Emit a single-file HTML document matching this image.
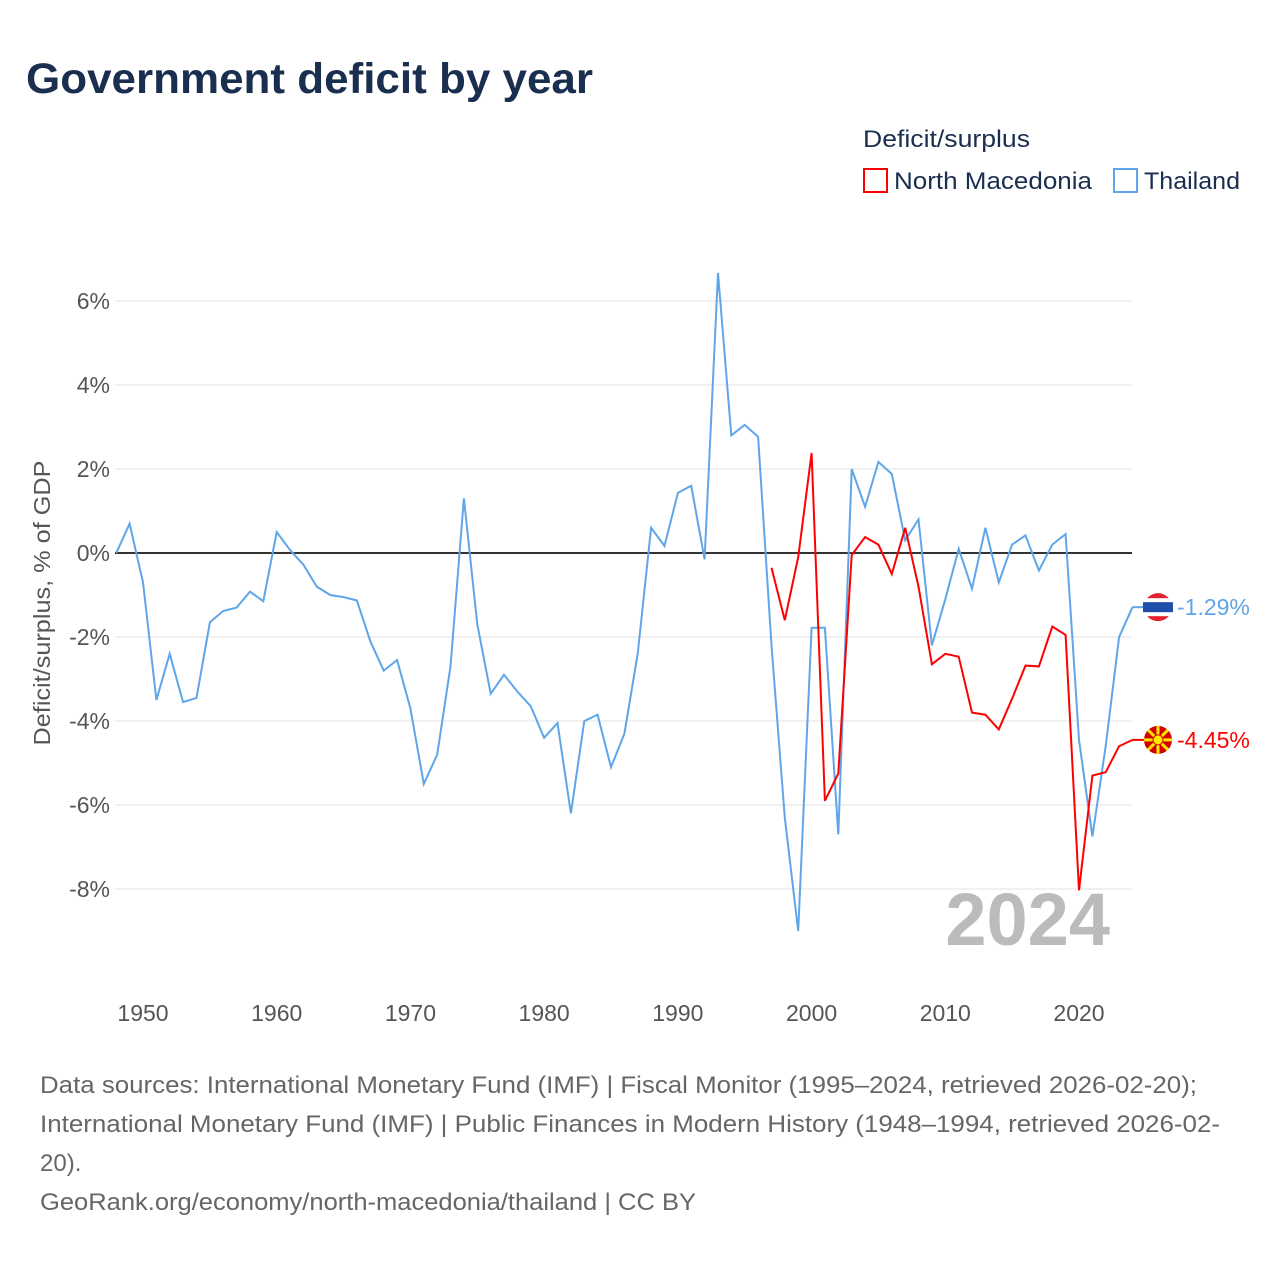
<!DOCTYPE html>
<html><head><meta charset="utf-8"><style>
body{margin:0;background:#fff;font-family:"Liberation Sans",sans-serif;}
</style></head><body>
<svg width="1280" height="1280" xmlns="http://www.w3.org/2000/svg" id="svg">
<rect width="1280" height="1280" fill="#fff"/>
<text x="26" y="93" font-size="43" font-weight="bold" fill="#1a2e4f" textLength="567" lengthAdjust="spacingAndGlyphs">Government deficit by year</text>
<text x="863" y="147" font-size="24" fill="#1a2e4f" textLength="167" lengthAdjust="spacingAndGlyphs">Deficit/surplus</text>
<g><rect x="864" y="169" width="23" height="23" fill="none" stroke="#f00" stroke-width="2"/><text x="894" y="189" font-size="24" fill="#1a2e4f" textLength="198" lengthAdjust="spacingAndGlyphs">North Macedonia</text></g>
<g><rect x="1114" y="169" width="23" height="23" fill="none" stroke="#5ea5ea" stroke-width="2"/><text x="1144" y="189" font-size="24" fill="#1a2e4f" textLength="96" lengthAdjust="spacingAndGlyphs">Thailand</text></g>
<text transform="translate(50,603) rotate(-90)" text-anchor="middle" font-size="23" fill="#555" textLength="285" lengthAdjust="spacingAndGlyphs">Deficit/surplus, % of GDP</text>
<text x="1110" y="945" text-anchor="end" font-size="74" font-weight="bold" fill="#bbb">2024</text>
<g id="grid"></g><g id="lines"></g>
<text x="40" y="1093" font-size="24" fill="#666" textLength="1157" lengthAdjust="spacingAndGlyphs">Data sources: International Monetary Fund (IMF) | Fiscal Monitor (1995–2024, retrieved 2026-02-20);</text>
<text x="40" y="1132" font-size="24" fill="#666" textLength="1180" lengthAdjust="spacingAndGlyphs">International Monetary Fund (IMF) | Public Finances in Modern History (1948–1994, retrieved 2026-02-</text>
<text x="40" y="1171" font-size="24" fill="#666">20).</text>
<text x="40" y="1210" font-size="24" fill="#666" textLength="656" lengthAdjust="spacingAndGlyphs">GeoRank.org/economy/north-macedonia/thailand | CC BY</text>
</svg>
<script>
const yTicks=[6,4,2,0,-2,-4,-6,-8];
const xTicks=[1950,1960,1970,1980,1990,2000,2010,2020];
const thYears=[];for(let y=1948;y<=2024;y++)thYears.push(y);
const thailand=[0,0.7,-0.7,-3.5,-2.4,-3.55,-3.45,-1.65,-1.38,-1.3,-0.92,-1.15,0.5,0.07,-0.28,-0.8,-1.0,-1.05,-1.13,-2.1,-2.8,-2.55,-3.7,-5.5,-4.8,-2.7,1.3,-1.7,-3.35,-2.9,-3.3,-3.65,-4.4,-4.05,-6.2,-4.0,-3.85,-5.1,-4.3,-2.4,0.6,0.17,1.43,1.6,-0.15,6.67,2.8,3.05,2.77,-2.2,-6.3,-9.0,-1.78,-1.78,-6.7,2.0,1.1,2.17,1.88,0.3,0.8,-2.2,-1.1,0.1,-0.85,0.6,-0.7,0.2,0.42,-0.42,0.2,0.45,-4.45,-6.75,-4.6,-2.0,-1.29];
const nmYears=[];for(let y=1997;y<=2024;y++)nmYears.push(y);
const macedonia=[-0.35,-1.6,-0.1,2.38,-5.9,-5.25,-0.05,0.38,0.2,-0.5,0.6,-0.8,-2.65,-2.4,-2.47,-3.8,-3.85,-4.2,-3.47,-2.68,-2.7,-1.75,-1.95,-8.03,-5.3,-5.22,-4.6,-4.45];
const NS="http://www.w3.org/2000/svg";
const X=yr=>143+(yr-1950)*(936/70);
const Y=v=>553-v*42;
function mk(t,a,p){const e=document.createElementNS(NS,t);for(const k in a)e.setAttribute(k,a[k]);p.appendChild(e);return e;}
const grid=document.getElementById('grid'),lines=document.getElementById('lines');
yTicks.forEach(v=>{
 const l=mk('line',{x1:115,x2:1132,y1:Y(v),y2:Y(v),stroke:v===0?'#333':'#e3e3e3','stroke-width':v===0?2:1},grid);
 
 
 const t=mk('text',{x:110,y:Y(v)+8,'text-anchor':'end','font-size':23,fill:'#555'},grid);t.textContent=v+'%';
 
 
});
xTicks.forEach(v=>{
 const t=mk('text',{x:X(v),y:1021,'text-anchor':'middle','font-size':23,fill:'#555'},grid);t.textContent=v;
 
 
});
function series(ys,vs,c,name){
 const p=mk('path',{d:ys.map((y,i)=>(i?'L':'M')+X(y).toFixed(1)+','+Y(vs[i]).toFixed(1)).join(''),fill:'none',stroke:c,'stroke-width':2},lines);
 
 
 const last=vs[vs.length-1],ly=Y(last);
 mk('line',{x1:X(ys[ys.length-1]),x2:1146,y1:ly,y2:ly,stroke:c,'stroke-width':2},lines);
 const g=mk('g',{},lines);
 
 
 if(name==='thailand'){
  mk('circle',{cx:1158,cy:ly,r:14,fill:'#e5212f'},g);
  mk('rect',{x:1144,y:ly-9,width:28,height:18,fill:'#fff'},g);
  mk('rect',{x:1143,y:ly-5,width:30,height:10,fill:'#1f4fa8'},g);
 }else{
  mk('circle',{cx:1158,cy:ly,r:14,fill:'#d20000'},g);
  for(let a=0;a<8;a++){const r=a*Math.PI/4;mk('line',{x1:1158,y1:ly,x2:1158+14*Math.cos(r),y2:ly+14*Math.sin(r),stroke:'#ffe600','stroke-width':3},g);}
  mk('circle',{cx:1158,cy:ly,r:5,fill:'#ffe600',stroke:'#d20000','stroke-width':1},g);
 }
 const t=mk('text',{x:1177,y:ly+8,'font-size':23,fill:c},lines);t.textContent=last.toFixed(2)+'%';
 
 
}
series(thYears,thailand,'#5ea5ea','thailand');
series(nmYears,macedonia,'#f00','north-macedonia');
</script>
</body></html>
